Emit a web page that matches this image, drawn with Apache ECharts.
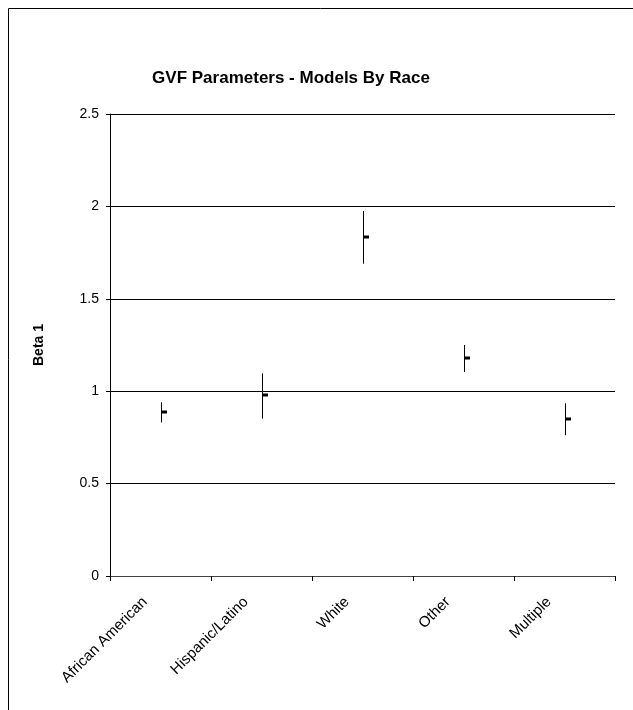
<!DOCTYPE html>
<html>
<head>
<meta charset="utf-8">
<script src="https://cdn.jsdelivr.net/npm/echarts@6/dist/echarts.min.js"></script>
<style>
  html, body { margin: 0; padding: 0; background: #fff; }
  #chart { width: 633px; height: 710px; }
</style>
</head>
<body>
<div id="chart"></div>
<script>
const categories = ['African American', 'Hispanic/Latino', 'White', 'Other', 'Multiple'];
const highValues = [0.94, 1.096, 1.975, 1.25, 0.935];
const lowValues = [0.831, 0.852, 1.69, 1.104, 0.762];
const closeValues = [0.888, 0.977, 1.832, 1.18, 0.852];
const yTicks = [0, 0.5, 1, 1.5, 2, 2.5];

const font = 'Arial, "Liberation Sans", sans-serif';

const chart = echarts.init(document.getElementById('chart'));

const seriesData = categories.map((c, i) => [i, highValues[i], lowValues[i], closeValues[i]]);

// high-low line with a small close tick on the right
const renderHLC = (params, api) => {
  const hi = api.coord([api.value(0), api.value(1)]);
  const lo = api.coord([api.value(0), api.value(2)]);
  const cl = api.coord([api.value(0), api.value(3)]);
  const x = Math.round(hi[0]) + 0.5;
  return {
    type: 'group',
    children: [
      {
        type: 'line',
        shape: { x1: x, y1: hi[1], x2: x, y2: lo[1] },
        style: { stroke: '#000', lineWidth: 1 },
      },
      {
        type: 'rect',
        shape: { x: x - 0.5, y: Math.round(cl[1]) - 1.5, width: 6, height: 3 },
        style: { fill: '#000' },
      },
    ],
  };
};

const option = {
  animation: false,
  backgroundColor: '#fff',
  title: {
    text: 'GVF Parameters - Models By Race',
    left: 286,
    top: 65,
    textAlign: 'center',
    textStyle: { fontFamily: font, fontSize: 17, fontWeight: 'bold', color: '#000' },
  },
  graphic: [
    { type: 'line', shape: { x1: 8.5, y1: 8.5, x2: 633, y2: 8.5 }, style: { stroke: '#000', lineWidth: 1 } },
    { type: 'line', shape: { x1: 8.5, y1: 8.5, x2: 8.5, y2: 710 }, style: { stroke: '#000', lineWidth: 1 } },
  ],
  grid: { left: 110, right: 18, top: 114, bottom: 134 },
  xAxis: {
    type: 'category',
    data: categories,
    boundaryGap: true,
    axisLine: { lineStyle: { color: '#444', width: 1 } },
    axisTick: { show: true, interval: 0, length: 5, lineStyle: { color: '#000' } },
    axisLabel: {
      interval: 0,
      rotate: 45,
      margin: 8,
      padding: [0, 22, 0, 0],
      fontFamily: font,
      fontSize: 15,
      color: '#000',
    },
    splitLine: { show: false },
  },
  yAxis: {
    type: 'value',
    min: yTicks[0],
    max: yTicks[yTicks.length - 1],
    interval: 0.5,
    name: 'Beta 1',
    nameLocation: 'middle',
    nameGap: 64,
    nameRotate: 90,
    nameTextStyle: { fontFamily: font, fontSize: 14, fontWeight: 'bold', color: '#000' },
    axisLine: { show: true, lineStyle: { color: '#000', width: 1 } },
    axisTick: { show: true, length: 4, lineStyle: { color: '#000' } },
    axisLabel: { margin: 11, fontFamily: font, fontSize: 14, color: '#000' },
    splitLine: { show: true, lineStyle: { color: '#000', width: 1 } },
  },
  series: [
    {
      type: 'custom',
      renderItem: renderHLC,
      data: seriesData,
      encode: { x: 0, y: [1, 2, 3] },
    },
  ],
};

chart.setOption(option);
</script>
</body>
</html>
